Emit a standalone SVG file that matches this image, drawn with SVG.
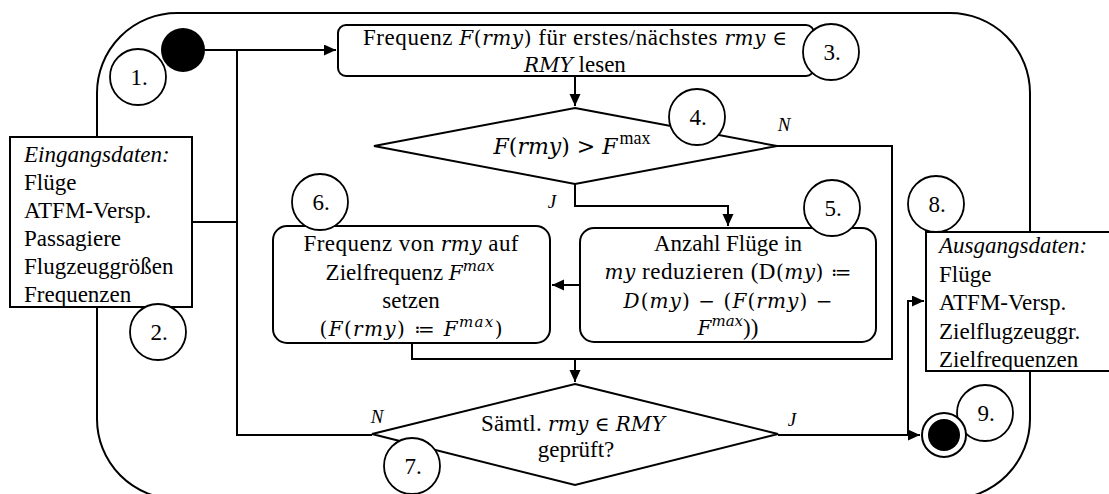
<svg xmlns="http://www.w3.org/2000/svg" width="1109" height="494" viewBox="0 0 1109 494">
  <style>
    text { font-family: "Liberation Serif", "Times New Roman", serif; font-size: 23px; fill: #000; }
    .c { text-anchor: middle; }
    .it { font-style: italic; }
    .mi { font-family: "DejaVu Serif", "DejaVu Sans", serif; font-style: italic; font-size: 20px; }
    .mu { font-family: "DejaVu Serif", "DejaVu Sans", serif; font-size: 20px; }
    .big { font-size: 22px; }
    .sup { font-size: 15px; }
    .supr { font-size: 18px; }
    .lbl { font-style: italic; font-size: 19px; text-anchor: middle; }
    .shape { fill: #fff; stroke: #000; stroke-width: 2; }
    .num { fill: #fff; stroke: #000; stroke-width: 1.8; }
    .edge { fill: none; stroke: #000; stroke-width: 2; }
    .frame { fill: none; stroke: #000; stroke-width: 2; }
  </style>
  <defs>
    <marker id="arr" markerUnits="userSpaceOnUse" markerWidth="13" markerHeight="12" refX="12" refY="5.5" orient="auto">
      <path d="M0,0 L12,5.5 L0,11 z" fill="#000"/>
    </marker>
  </defs>

  <rect width="1109" height="494" fill="#fff"/>

  <!-- outer activity frame -->
  <rect class="frame" x="97" y="13" width="933" height="486" rx="80" ry="80"/>

  <!-- connectors -->
  <g id="connectors">
    <path class="edge" d="M205,50 H336" marker-end="url(#arr)"/>
    <path class="edge" d="M192,222 H237"/>
    <path class="edge" d="M237,50 V435 H372"/>
    <path class="edge" d="M575,76 V106" marker-end="url(#arr)"/>
    <path class="edge" d="M777,146 H892 V359 H412 V343"/>
    <path class="edge" d="M575,184 V206 H728 V226" marker-end="url(#arr)"/>
    <path class="edge" d="M580,285 H552" marker-end="url(#arr)"/>
    <path class="edge" d="M575,359 V382" marker-end="url(#arr)"/>
    <path class="edge" d="M778,435 H920" marker-end="url(#arr)"/>
    <path class="edge" d="M908,435 V301 H924" marker-end="url(#arr)"/>
    <text class="lbl" x="784" y="131">N</text>
    <text class="lbl" x="552" y="208">J</text>
    <text class="lbl" x="377" y="423">N</text>
    <text class="lbl" x="792" y="426">J</text>
  </g>

  <!-- start node -->
  <g id="start">
    <circle cx="183" cy="50" r="22" fill="#000"/>
  </g>

  <!-- input data -->
  <g id="input">
    <rect class="shape" x="10" y="137" width="182" height="170"/>
    <text class="it" x="24" y="162">Eingangsdaten:</text>
    <text x="24" y="190">Flüge</text>
    <text x="24" y="218">ATFM-Versp.</text>
    <text x="24" y="246">Passagiere</text>
    <text x="24" y="274">Flugzeuggrößen</text>
    <text x="24" y="302">Frequenzen</text>
  </g>

  <!-- read frequency -->
  <g id="read">
    <rect class="shape" x="338" y="25" width="476" height="51" rx="8" ry="8"/>
    <text class="c" x="575" y="45" textLength="424" lengthAdjust="spacing">Frequenz <tspan class="mi">F</tspan><tspan class="mu">(</tspan><tspan class="mi">rmy</tspan><tspan class="mu">)</tspan> für erstes/nächstes <tspan class="mi">rmy</tspan> <tspan class="mu">∈</tspan></text>
    <text class="c" x="575" y="72"><tspan class="mi">RMY</tspan> lesen</text>
  </g>

  <!-- decision: frequency above limit -->
  <g id="check">
    <polygon class="shape" points="575,108 777,146 575,184 374,146"/>
    <text class="c" x="572" y="154"><tspan class="mi big">F</tspan><tspan class="mu big">(</tspan><tspan class="mi big">rmy</tspan><tspan class="mu big">) &gt; </tspan><tspan class="mi big">F</tspan><tspan class="supr" dx="2" dy="-10">max</tspan></text>
  </g>

  <!-- reduce flights -->
  <g id="reduce">
    <rect class="shape" x="580" y="228" width="296" height="114" rx="14" ry="14"/>
    <text class="c" x="728" y="251">Anzahl Flüge in</text>
    <text class="c" x="728" y="279" textLength="247" lengthAdjust="spacing"><tspan class="mi">my</tspan> reduzieren (D<tspan class="mu">(</tspan><tspan class="mi">my</tspan><tspan class="mu">) ≔</tspan></text>
    <text class="c" x="728" y="308" textLength="209" lengthAdjust="spacing"><tspan class="mi">D</tspan><tspan class="mu">(</tspan><tspan class="mi">my</tspan><tspan class="mu">) − (</tspan><tspan class="mi">F</tspan><tspan class="mu">(</tspan><tspan class="mi">rmy</tspan><tspan class="mu">) −</tspan></text>
    <text class="c" x="728" y="335"><tspan class="mi">F</tspan><tspan class="mi sup" dy="-9">max</tspan><tspan dy="9">))</tspan></text>
  </g>

  <!-- set target frequency -->
  <g id="settarget">
    <rect class="shape" x="273" y="226" width="277" height="117" rx="14" ry="14"/>
    <text class="c" x="411" y="251" textLength="215" lengthAdjust="spacing">Frequenz von <tspan class="mi">rmy</tspan> auf</text>
    <text class="c" x="410" y="280">Zielfrequenz <tspan class="mi">F</tspan><tspan class="mi sup" dy="-9">max</tspan></text>
    <text class="c" x="411" y="308">setzen</text>
    <text class="c" x="411" y="336" textLength="183" lengthAdjust="spacing"><tspan class="mu">(</tspan><tspan class="mi">F</tspan><tspan class="mu">(</tspan><tspan class="mi">rmy</tspan><tspan class="mu">) ≔ </tspan><tspan class="mi">F</tspan><tspan class="mi sup" dy="-9">max</tspan><tspan class="mu" dy="9">)</tspan></text>
  </g>

  <!-- decision: all checked -->
  <g id="allchecked">
    <polygon class="shape" points="575,384 778,434 575,485 372,434"/>
    <text class="c" x="573" y="431" textLength="184" lengthAdjust="spacing">Sämtl. <tspan class="mi">rmy</tspan> <tspan class="mu">∈</tspan> <tspan class="mi">RMY</tspan></text>
    <text class="c" x="576" y="457">geprüft?</text>
  </g>

  <!-- output data -->
  <g id="output">
    <rect class="shape" x="926" y="232" width="190" height="139"/>
    <text class="it" x="939" y="253">Ausgangsdaten:</text>
    <text x="939" y="282">Flüge</text>
    <text x="939" y="310">ATFM-Versp.</text>
    <text x="939" y="339">Zielflugzeuggr.</text>
    <text x="939" y="367">Zielfrequenzen</text>
  </g>

  <!-- step numbers -->
  <g id="step1"><circle class="num" cx="138" cy="77" r="28"/><text class="c" x="139" y="85">1.</text></g>
  <g id="step2"><circle class="num" cx="158" cy="332" r="28"/><text class="c" x="159" y="340">2.</text></g>
  <g id="step3"><circle class="num" cx="831" cy="52" r="28"/><text class="c" x="832" y="60">3.</text></g>
  <g id="step4"><circle class="num" cx="697" cy="117" r="28"/><text class="c" x="698" y="125">4.</text></g>
  <g id="step5"><circle class="num" cx="832" cy="208" r="28"/><text class="c" x="833" y="216">5.</text></g>
  <g id="step6"><circle class="num" cx="320" cy="202" r="28"/><text class="c" x="321" y="210">6.</text></g>
  <g id="step7"><circle class="num" cx="412" cy="466" r="28"/><text class="c" x="413" y="474">7.</text></g>
  <g id="step8"><circle class="num" cx="936" cy="204" r="28"/><text class="c" x="937" y="212">8.</text></g>
  <g id="step9"><circle class="num" cx="985" cy="413" r="28"/><text class="c" x="986" y="421">9.</text></g>

  <!-- end node -->
  <g id="end">
    <circle cx="944" cy="435" r="22" fill="#fff" stroke="#000" stroke-width="2"/>
    <circle cx="944" cy="435" r="16" fill="#000"/>
  </g>
</svg>
